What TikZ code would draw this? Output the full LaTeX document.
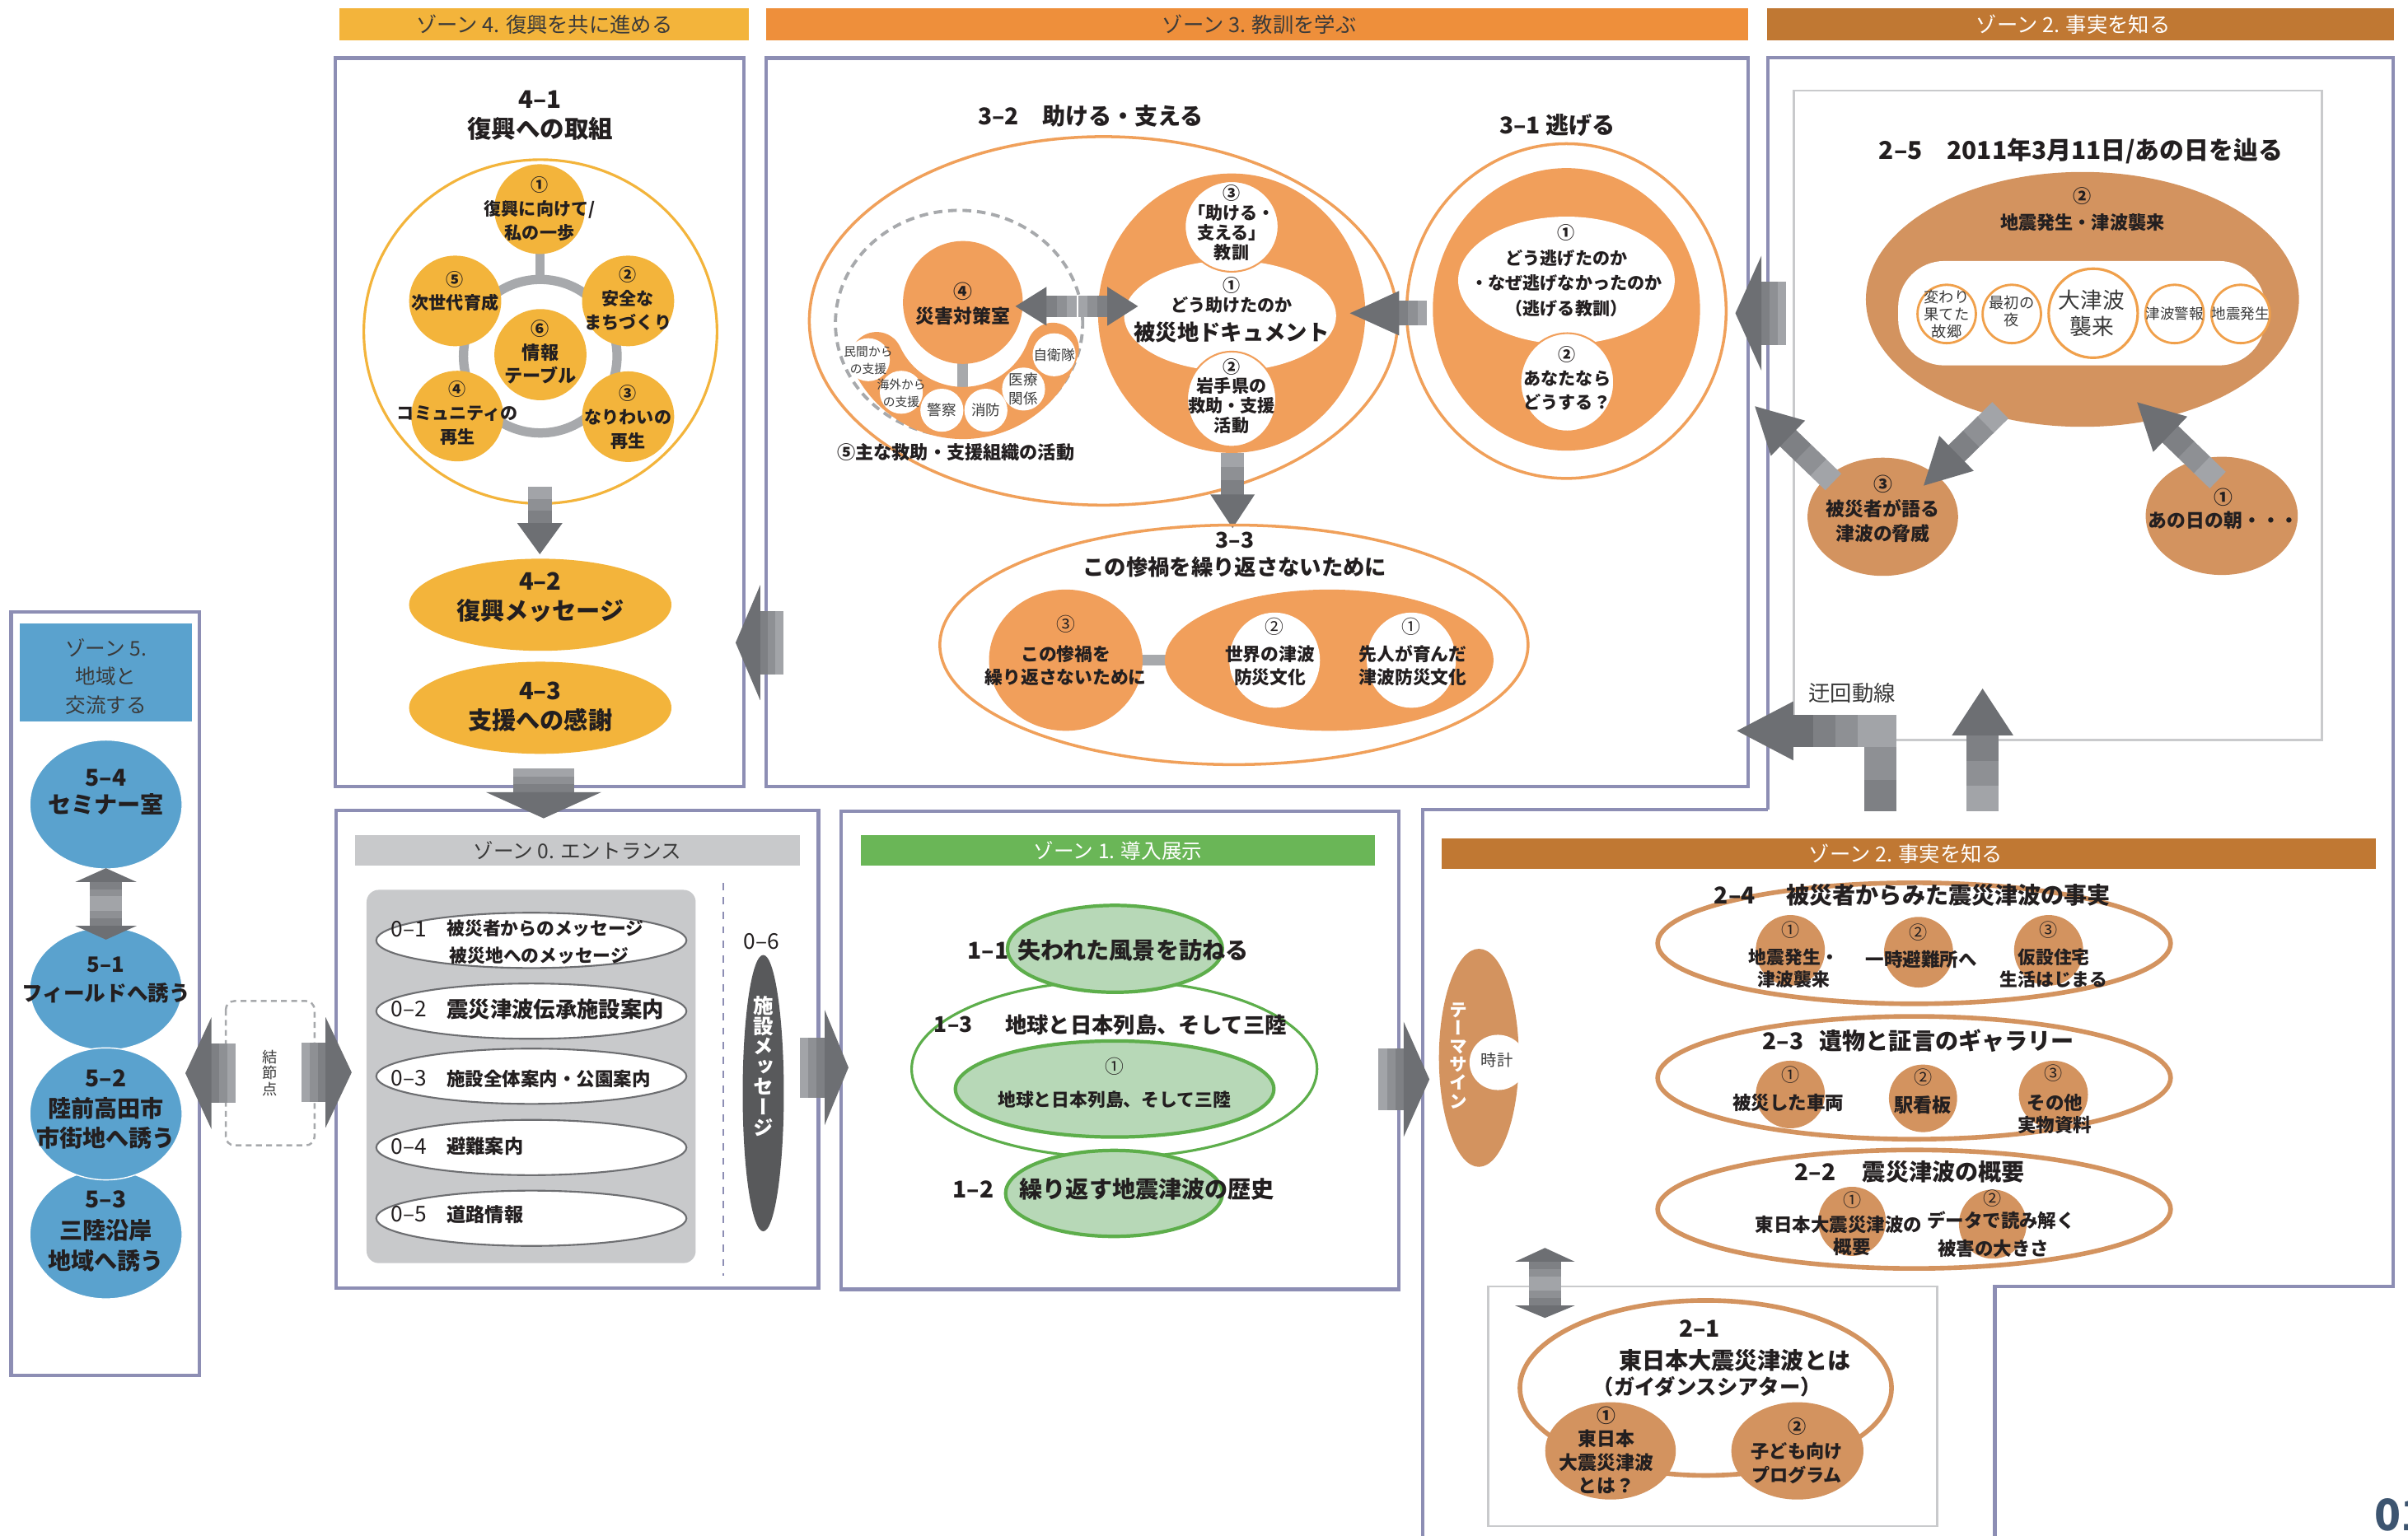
\documentclass[tikz,border=0pt]{standalone}
\usepackage{fontspec}
\usepackage{graphicx}
\setmainfont{Noto Sans CJK JP}
\usetikzlibrary{shapes.geometric}
\definecolor{gold}{HTML}{F3B43B}
\definecolor{orgbar}{HTML}{EE8F3B}
\definecolor{orgf}{HTML}{F19F5B}
\definecolor{orgl}{HTML}{F0A05A}
\definecolor{brnbar}{HTML}{C07833}
\definecolor{tanf}{HTML}{D3935F}
\definecolor{grnbar}{HTML}{6AB657}
\definecolor{grnf}{HTML}{B7D8B7}
\definecolor{grnl}{HTML}{5DAE4B}
\definecolor{blu}{HTML}{5AA2CE}
\definecolor{lgry}{HTML}{C8C9CB}
\definecolor{dgry}{HTML}{58595B}
\definecolor{ahd}{HTML}{6D6F73}
\definecolor{abA}{HTML}{7E8084}
\definecolor{abB}{HTML}{8E9094}
\definecolor{abC}{HTML}{A2A4A8}
\definecolor{boxc}{HTML}{8D8EB4}
\definecolor{ringc}{HTML}{A7A9AC}
\definecolor{ink}{HTML}{231F20}
\definecolor{hdr}{HTML}{3A3A3A}
\definecolor{ellg}{HTML}{6D6E71}
\definecolor{rectg}{HTML}{C9CACC}
\definecolor{cirl}{HTML}{F0A04B}
\definecolor{pagec}{HTML}{3D5570}
\tikzset{
  every node/.style={inner sep=0pt, outer sep=0pt},
  R/.style 2 args={align=center, text=ink, font=\fontsize{#1}{#2}\selectfont},
  B/.style 2 args={align=center, text=ink, font=\bfseries\fontsize{#1}{#2}\selectfont},
  V/.style 2 args={align=center, text=white, font=\bfseries\fontsize{#1}{#2}\selectfont\addfontfeature{RawFeature=+vert}},
  S/.style 2 args={ellipse, minimum width={(#1)*0.018642cm}, minimum height={(#2)*0.018642cm}},
  boxl/.style={draw=boxc, line width=1.2pt},
  pics/barrow/.style n args={4}{code={%
    \fill[abC] ({-(#3)-(#1)},{-(#2)/2}) rectangle ({-(#3)-2*(#1)/3+0.4},{(#2)/2});
    \fill[abB] ({-(#3)-2*(#1)/3},{-(#2)/2}) rectangle ({-(#3)-(#1)/3+0.4},{(#2)/2});
    \fill[abA] ({-(#3)-(#1)/3},{-(#2)/2}) rectangle ({-(#3)+0.4},{(#2)/2});
    \fill[ahd] (0,0) -- ({-(#3)},{(#4)/2}) -- ({-(#3)},{-(#4)/2}) -- cycle;
  }},
}
\begin{document}
\begin{tikzpicture}[x=0.018642cm,y=-0.018642cm]
\useasboundingbox (0,0) rectangle (1568,1000);
\fill[white] (0,0) rectangle (1568,1000);

% ===== header bars
\fill[gold] (221,5.3) rectangle (487.7,26.1);
\node[R={7.2}{8}, text=hdr] (h4) at (354.5,15.9) {ゾーン 4. 復興を共に進める};
\fill[orgbar] (498.8,5.3) rectangle (1138.4,26.1);
\node[R={7.2}{8}, text=hdr] (h3) at (820,15.9) {ゾーン 3. 教訓を学ぶ};
\fill[brnbar] (1150.8,5.3) rectangle (1559,26.1);
\node[R={7.2}{8}, text=white] (h2a) at (1350,15.9) {ゾーン 2. 事実を知る};

% ===== box outlines
\draw[boxl] (218.5,37.8) rectangle (484.6,512.3);
\draw[boxl] (498.8,37.8) rectangle (1138.4,512.3);
\draw[boxl] (1151,527.5) -- (1151,37.5) -- (1558.5,37.5) -- (1558.5,837.8) -- (1299,837.8) -- (1299,1003);
\draw[boxl] (1151,527.5) -- (926.5,527.5) -- (926.5,1003);
\draw[boxl] (7.2,398.7) rectangle (130,896);
\draw[boxl] (219,527.8) rectangle (533,839);
\draw[boxl] (547.5,528.2) rectangle (911,839.8);

% ===== ZONE 4
\node[B={8.4}{10.2}] (t41) at (351.8,75.3) {4–1\\復興への取組};
\node[S={230}{224}, draw=gold, line width=0.9pt] (z4o) at (351.9,216) {};
\draw[draw=ringc, line width=3.2pt] (351.8,232) circle[radius=50];
\draw[draw=ringc, line width=3.2pt] (351.6,163) -- (351.6,184);
\node[S={59}{58.5}, fill=gold] (z4a) at (351.4,136.2) {};
\node[S={60}{59}, fill=gold] (z4b) at (409,196) {};
\node[S={60}{59}, fill=gold] (z4c) at (409,271.4) {};
\node[S={60}{59}, fill=gold] (z4d) at (297.8,271) {};
\node[S={60}{59}, fill=gold] (z4e) at (296.4,196) {};
\node[S={60}{59.4}, fill=gold] (z4f) at (351.9,231) {};
\node[B={6}{8.2}] (z4at) at (351.4,136) {①\\復興に向けて/\\私の一歩};
\node[B={6}{8.2}] (z4bt) at (409,194.5) {②\\安全な\\まちづくり};
\node[B={6}{8.2}] (z4ct) at (409,271.6) {③\\なりわいの\\再生};
\node[B={6}{8.2}] (z4dt) at (297.8,268.9) {④\\コミュニティの\\再生};
\node[B={6}{8.2}] (z4et) at (296.4,189.7) {⑤\\次世代育成};
\node[B={6.3}{8.2}] (z4ft) at (351.9,229.3) {⑥\\情報\\テーブル};
\pic[rotate=-90] at (351.5,361) {barrow={23.7}{15.4}{20.3}{29.5}};
\node[S={170.8}{60}, fill=gold] (z42) at (351.8,393.9) {};
\node[B={8.3}{10.3}] (z42t) at (351.8,389.2) {4–2\\復興メッセージ};
\node[S={170.8}{60}, fill=gold] (z43) at (351.8,461) {};
\node[B={8.3}{10.3}] (z43t) at (351.8,460.5) {4–3\\支援への感謝};
\pic[rotate=-90] at (354,533) {barrow={15.4}{40}{17}{75}};

% ===== ZONE 3 : 3-2
\node[B={8}{9}] (t32) at (710.3,75.3) {3–2　助ける・支える};
\node[S={383}{240}, draw=orgl, line width=1pt] (z32o) at (718.5,209) {};
\node[S={161}{147}, draw=ringc, line width=1.1pt, dash pattern=on 3pt off 2pt] (z32d) at (624.5,210.5) {};
\draw[draw=ringc, line width=3.7pt] (627,236) -- (627,252);
\draw[draw=orgf, line width=18pt, line cap=round] (570.8,233.2) arc[start angle=155, end angle=19, radius=62];
\node[S={78}{80}, fill=orgf] (z32c4) at (627,197) {};
\node[B={6.5}{8.4}] (z32c4t) at (627,198) {④\\災害対策室};
\node[S={28}{28}, fill=white] (s1) at (565.4,234.3) {};
\node[S={28}{28}, fill=white] (s2) at (586.9,255.5) {};
\node[S={28}{28}, fill=white] (s3) at (613.3,267.2) {};
\node[S={28}{28}, fill=white] (s4) at (642,267.2) {};
\node[S={28}{28}, fill=white] (s5) at (666.5,253.4) {};
\node[S={28}{28}, fill=white] (s6) at (686.4,231.1) {};
\node[R={4.2}{6}, text=hdr] (s1t) at (565.4,234.8) {民間から\\の支援};
\node[R={4.2}{6}, text=hdr] (s2t) at (586.9,256) {海外から\\の支援};
\node[R={5}{6}, text=hdr] (s3t) at (613.3,267.2) {警察};
\node[R={5}{6}, text=hdr] (s4t) at (642,267.2) {消防};
\node[R={5}{6.6}, text=hdr] (s5t) at (666.5,253.4) {医療\\関係};
\node[R={4.8}{6}, text=hdr] (s6t) at (686.4,231.1) {自衛隊};
\node[B={6.3}{7}] (t325) at (622.4,294.7) {⑤主な救助・支援組織の活動};
% 3-2 main circle
\node[S={174}{182}, fill=orgf] (z32c1) at (802,204) {};
\node[S={138}{72}, fill=white] (z32w) at (801,205.7) {};
\node[S={61}{59}, fill=white, draw=orgf, line width=0.6pt] (z32c3) at (802,147.5) {};
\node[S={58}{62}, fill=white, draw=orgf, line width=0.6pt] (z32c2) at (802,260) {};
\node[B={6}{6.8}] (z32c3t) at (802,145) {③\\「助ける・\\支える」\\教訓};
\node[B={6}{7.1}] (z32wt) at (802,192.3) {①\\どう助けたのか};
\node[B={7.5}{8}] (z32wt2) at (802,216.3) {被災地ドキュメント};
\node[B={6}{6.8}] (z32c2t) at (802,258) {②\\岩手県の\\救助・支援\\活動};
\pic[rotate=180] at (661.2,199.5) {barrow={19.5}{13.8}{20.3}{25.4}};
\pic at (741,199.5) {barrow={19}{13.8}{20}{25.4}};

% ===== 3-1
\node[B={8}{9}] (t31) at (1014,81.6) {3–1 逃げる};
\node[S={208}{218}, draw=orgl, line width=1pt] (z31o) at (1020,202.6) {};
\node[S={174}{184}, fill=orgf] (z31c) at (1020,201.5) {};
\node[S={141}{83}, fill=white] (z31w) at (1020,182.6) {};
\node[S={61}{64}, fill=white, draw=orgf, line width=0.6pt] (z31c2) at (1020.5,249) {};
\node[B={6}{8.7}] (z31wt) at (1020,176.4) {①\\どう逃げたのか\\・なぜ逃げなかったのか\\（逃げる教訓）};
\node[B={6}{8.2}] (z31c2t) at (1020.5,246.5) {②\\あなたなら\\どうする？};
\pic[rotate=180] at (879,204) {barrow={18}{16}{32}{29}};
\pic[rotate=-90] at (802.6,344) {barrow={27}{15}{22}{29}};

% ===== 3-3
\node[S={383}{156}, draw=orgl, line width=1pt] (z33o) at (803.5,420) {};
\node[B={7.5}{9.3}] (t33) at (804,361.3) {3–3\\この惨禍を繰り返さないために};
\fill[ringc] (743,426.5) rectangle (764,433.5);
\node[S={100}{92}, fill=orgf] (z33c) at (694,430) {};
\node[S={214}{92}, fill=orgf] (z33b) at (865.5,430) {};
\node[S={59}{62}, fill=white] (z33b2) at (830,430) {};
\node[S={58}{62}, fill=white] (z33b1) at (919,430) {};
\node[R={6.5}{7}] (z33cn) at (694,406.6) {③};
\node[B={6.2}{8}] (z33ct) at (694,433.5) {この惨禍を\\繰り返さないために};
\node[R={6.5}{7}] (z33b2n) at (830,408) {②};
\node[B={6.2}{8}] (z33b2t) at (827,433.5) {世界の津波\\防災文化};
\node[R={6.5}{7}] (z33b1n) at (919,408) {①};
\node[B={6.2}{8}] (z33b1t) at (920,433.5) {先人が育んだ\\津波防災文化};
\pic[rotate=180] at (479,418.6) {barrow={15}{41}{16}{75}};

% ===== ZONE 2 top (2-5)
\draw[draw=rectg, line width=0.7pt] (1168,59) rectangle (1512,482);
\node[B={8.5}{9}] (t25) at (1355,98.4) {2–5　2011年3月11日/あの日を辿る};
\node[S={282}{166}, fill=tanf] (z25b) at (1356,195) {};
\node[B={6.3}{9.2}] (z25bt) at (1356,136.4) {②\\地震発生・津波襲来};
\fill[white, rounded corners=16pt] (1236,170) rectangle (1475,238);
\node[S={38}{38}, fill=white, draw=cirl, line width=0.8pt] (k1) at (1267.6,204.5) {};
\node[S={38}{38}, fill=white, draw=cirl, line width=0.8pt] (k2) at (1310,204.5) {};
\node[S={58}{58}, fill=white, draw=cirl, line width=0.9pt] (k3) at (1363,204) {};
\node[S={38}{38}, fill=white, draw=cirl, line width=0.8pt] (k4) at (1416,204.5) {};
\node[S={38}{38}, fill=white, draw=cirl, line width=0.8pt] (k5) at (1459,204.5) {};
\node[R={5.2}{6}, text=hdr] (k1t) at (1267.6,204.5) {変わり\\果てた\\故郷};
\node[R={5.2}{6}, text=hdr] (k2t) at (1310,203) {最初の\\夜};
\node[R={7.6}{9}, text=hdr] (k3t) at (1362,204) {大津波\\襲来};
\node[R={5}{6}, text=hdr] (k4t) at (1416,204.5) {津波警報};
\node[R={5}{6}, text=hdr] (k5t) at (1459,204.5) {地震発生};
\node[S={98}{77}, fill=tanf] (z25c3) at (1226,336.6) {};
\node[B={6.5}{8.5}] (z25c3t) at (1226,331.3) {③\\被災者が語る\\津波の脅威};
\node[S={99}{77}, fill=tanf] (z25c1) at (1446.7,336) {};
\node[B={6.5}{8}] (z25c1t) at (1448,331.3) {①\\あの日の朝・・・};
\pic[rotate=224.5] at (1252.6,316.3) {barrow={40}{15}{30}{32}};
\pic[rotate=136] at (1391.6,262) {barrow={43}{15}{30}{32}};
\pic[rotate=136] at (1142.7,264.6) {barrow={41}{15}{30}{32}};
\pic[rotate=180] at (1130,204) {barrow={16}{41}{17}{75}};
% detour
\node[R={7.5}{8}, text=hdr] (det) at (1206,451.5) {迂回動線};
\fill[ahd] (1131,476) -- (1167.8,456.8) -- (1167.8,495.3) -- cycle;
\fill[ahd] (1167.4,465.8) rectangle (1181,486.5);
\fill[abA] (1180.8,465.8) rectangle (1195.4,486.5);
\fill[abB] (1195.2,465.8) rectangle (1209.8,486.5);
\fill[abC] (1209.6,465.8) rectangle (1234.7,486.6);
\fill[abB] (1214,486.4) rectangle (1234.7,508.1);
\fill[abA] (1214,507.9) rectangle (1234.7,528.4);
\pic[rotate=90] at (1291,448.5) {barrow={49.4}{21}{30.5}{40}};

% ===== ZONE 5
\fill[blu] (13,406) rectangle (125,469.7);
\node[R={7}{9.8}, text=hdr] (h5) at (69,440.5) {ゾーン 5.\\地域と\\交流する};
\node[S={99.2}{84}, fill=blu, draw=white, line width=0.4pt] (z54) at (69,524) {};
\node[S={99.2}{80}, fill=blu, draw=white, line width=0.4pt] (z51) at (69,644) {};
\node[S={99.2}{84}, fill=blu, draw=white, line width=0.4pt] (z53) at (69,804) {};
\node[S={99.2}{86}, fill=blu, draw=white, line width=0.4pt] (z52) at (69,725.5) {};
\node[B={8}{9.3}] (z54t) at (69,516) {5–4\\セミナー室};
\node[B={7.3}{10}] (z51t) at (69,638.5) {5–1\\フィールドへ誘う};
\node[B={8}{10.4}] (z52t) at (69,722.8) {5–2\\陸前高田市\\市街地へ誘う};
\node[B={8}{10.6}] (z53t) at (69,802) {5–3\\三陸沿岸\\地域へ誘う};
\pic[rotate=90] at (69,565.5) {barrow={14}{21}{9}{40}};
\pic[rotate=-90] at (69,612) {barrow={14.5}{21}{9}{40}};
% node point
\draw[draw=ringc, line width=0.7pt, dash pattern=on 2pt off 1.5pt, rounded corners=3pt] (147,652) rectangle (204.8,746);
\node[R={5.2}{5.5}, text=hdr] (kes) at (176,698.9) {結\\節\\点};
\pic[rotate=180] at (120.7,699) {barrow={15.7}{38.7}{17}{73}};
\pic at (229,698.5) {barrow={15.6}{38.7}{17}{72}};

% ===== ZONE 0
\fill[lgry] (231,544) rectangle (521,564);
\node[R={7}{8}, text=hdr] (h0) at (376,554) {ゾーン 0. エントランス};
\fill[lgry, rounded corners=4.2pt] (238.7,579.6) rectangle (453,822.7);
\node[S={202}{36}, fill=white, draw=ellg, line width=0.6pt] (z01) at (346,612.5) {};
\node[S={202}{36}, fill=white, draw=ellg, line width=0.6pt] (z02) at (346,658.6) {};
\node[S={202}{36}, fill=white, draw=ellg, line width=0.6pt] (z03) at (346,701) {};
\node[S={202}{36}, fill=white, draw=ellg, line width=0.6pt] (z04) at (346,747.4) {};
\node[S={202}{36}, fill=white, draw=ellg, line width=0.6pt] (z05) at (346,793.5) {};
\node[R={7.5}{8}, anchor=west] (z01n) at (254.7,604.9) {0–1};
\node[B={6.2}{7}, anchor=west] (z01a) at (291,604.9) {被災者からのメッセージ};
\node[B={6.2}{7}, anchor=west] (z01b) at (292.7,622.3) {被災地へのメッセージ};
\node[R={7.5}{8}, anchor=west] (z02n) at (254.7,657.3) {0–2};
\node[B={7.5}{8}, anchor=west] (z02a) at (291,657.3) {震災津波伝承施設案内};
\node[R={7.5}{8}, anchor=west] (z03n) at (254.7,702.5) {0–3};
\node[B={6.4}{7}, anchor=west] (z03a) at (291,702.5) {施設全体案内・公園案内};
\node[R={7.5}{8}, anchor=west] (z04n) at (254.7,746.7) {0–4};
\node[B={6.6}{7}, anchor=west] (z04a) at (291,746.7) {避難案内};
\node[R={7.5}{8}, anchor=west] (z05n) at (254.7,790.9) {0–5};
\node[B={6.6}{7}, anchor=west] (z05a) at (291,790.9) {道路情報};
\draw[draw=boxc, line width=0.8pt, dash pattern=on 2.5pt off 2.5pt] (471,575) -- (471,831);
\node[R={7.5}{8}] (z06n) at (496,613) {0–6};
\node[S={26.8}{180}, fill=dgry] (z06) at (497,712) {};
\node[V={7}{7}] (z06t) at (497,694.4) {施\\設\\メ\\ッ\\セ\\ー\\ジ};
\pic at (552.5,695.3) {barrow={16}{39}{15.5}{75}};

% ===== ZONE 1
\fill[grnbar] (560.6,544) rectangle (895.5,564);
\node[R={7}{8}, text=white] (h1) at (728,554) {ゾーン 1. 導入展示};
\node[S={264}{115}, fill=white, draw=grnl, line width=0.9pt] (z13) at (725.6,696.3) {};
\node[S={140}{56.6}, fill=grnf, draw=grnl, line width=1.2pt] (z11) at (726,618) {};
\node[S={141.2}{56}, fill=grnf, draw=grnl, line width=1.2pt] (z12) at (725.4,777.3) {};
\node[S={207.4}{62.6}, fill=grnf, draw=grnl, line width=1.2pt] (z131) at (725.8,709.3) {};
\node[B={8}{9}] (z11n) at (643.5,619) {1–1};
\node[B={8}{9}] (z11t) at (737.9,619) {失われた風景を訪ねる};
\node[B={7.5}{9}] (z13n) at (620.8,667.4) {1–3};
\node[B={7.5}{9}] (z13t) at (746.2,667.4) {地球と日本列島、そして三陸};
\node[R={6.5}{7}] (z131n) at (725.8,694.7) {①};
\node[B={6.2}{7}] (z131t) at (725.6,716) {地球と日本列島、そして三陸};
\node[B={8}{9}] (z12n) at (633.7,774.5) {1–2};
\node[B={8}{9}] (z12t) at (746.9,774.5) {繰り返す地震津波の歴史};
\pic at (930.8,703) {barrow={16.3}{40}{16.8}{75}};

% ===== ZONE 2 bottom
\fill[brnbar] (939,546) rectangle (1547,566);
\node[R={7.2}{8}, text=white] (h2b) at (1241,556) {ゾーン 2. 事実を知る};
\node[S={52}{142}, fill=tanf] (ts) at (963,689) {};
\node[V={6.2}{6.3}] (tst) at (949.6,687.6) {テ\\ー\\マ\\サ\\イ\\ン};
\node[S={37}{36}, fill=white] (clk) at (975.4,692) {};
\node[R={5.5}{6}, text=hdr] (clkt) at (974.8,690.5) {時計};
% 2-4
\node[S={334}{78.8}, draw=tanf, line width=1.6pt] (z24) at (1246.4,614.4) {};
\node[B={8}{9}] (z24n) at (1129.6,583.2) {2–4};
\node[B={8}{9}] (z24t) at (1268.8,583.2) {被災者からみた震災津波の事実};
\node[S={45}{46}, fill=tanf] (z241) at (1165.8,619) {};
\node[S={45}{46}, fill=tanf] (z242) at (1249.3,620.2) {};
\node[S={45}{46}, fill=tanf] (z243) at (1334,619) {};
\node[R={6.3}{7}] (z241n) at (1165.8,605.6) {①};
\node[B={6.2}{7.7}] (z241t) at (1168,630.8) {地震発生・\\津波襲来};
\node[R={6.3}{7}] (z242n) at (1249.3,607.5) {②};
\node[B={6.4}{7}] (z242t) at (1251,624.9) {一時避難所へ};
\node[R={6.3}{7}] (z243n) at (1334,605.6) {③};
\node[B={6.2}{7.7}] (z243t) at (1337.4,630.8) {仮設住宅\\生活はじまる};
% 2-3
\node[S={334}{80}, draw=tanf, line width=1.6pt] (z23) at (1246.4,702) {};
\node[B={8}{9}] (z23n) at (1161,678) {2–3};
\node[B={8}{9}] (z23t) at (1267.7,678) {遺物と証言のギャラリー};
\node[S={45}{44}, fill=tanf] (z231) at (1165.8,712.9) {};
\node[S={44.4}{44}, fill=tanf] (z232) at (1252.2,715.4) {};
\node[S={45}{44}, fill=tanf] (z233) at (1337.1,712.9) {};
\node[R={6.3}{7}] (z231n) at (1165.8,700) {①};
\node[B={6.4}{7}] (z231t) at (1164.4,718.4) {被災した車両};
\node[R={6.3}{7}] (z232n) at (1252.2,701.7) {②};
\node[B={6.6}{7}] (z232t) at (1252,720) {駅看板};
\node[R={6.3}{7}] (z233n) at (1337.1,699) {③};
\node[B={6.4}{7.6}] (z233t) at (1338,725.5) {その他\\実物資料};
% 2-2
\node[S={334}{77.2}, draw=tanf, line width=1.6pt] (z22) at (1246.4,787.6) {};
\node[B={8}{9}] (z22n) at (1182,763.3) {2–2};
\node[B={8}{9}] (z22t) at (1265.6,763.3) {震災津波の概要};
\node[S={44}{45}, fill=tanf] (z221) at (1206,795.5) {};
\node[S={44}{45}, fill=tanf] (z222) at (1297.6,797.3) {};
\node[R={6.3}{7}] (z221n) at (1206,781.5) {①};
\node[B={6.4}{7}] (z221a) at (1197.2,797.8) {東日本大震災津波の};
\node[B={6.4}{7}] (z221b) at (1206,812) {概要};
\node[R={6.3}{7}] (z222n) at (1297.6,780.6) {②};
\node[B={6.4}{7}] (z222a) at (1303,795) {データで読み解く};
\node[B={6.4}{7}] (z222b) at (1298,813.2) {被害の大きさ};
% 2-1
\draw[draw=rectg, line width=0.7pt] (969,837.8) rectangle (1261.4,994);
\pic[rotate=90] at (1006,812.8) {barrow={14.3}{21}{9}{39}};
\pic[rotate=-90] at (1006,858.4) {barrow={14.3}{21}{8.1}{39}};
\node[S={242}{114}, fill=white, draw=tanf, line width=1.6pt] (z21) at (1110.7,904) {};
\node[S={85}{63.4}, fill=tanf] (z211) at (1048.7,945) {};
\node[S={86}{63.4}, fill=tanf] (z212) at (1170.4,945) {};
\node[B={8}{9}] (z21n) at (1106.6,865.5) {2–1};
\node[B={8}{9}] (z21a) at (1129.6,886) {東日本大震災津波とは};
\node[B={7.2}{8}] (z21b) at (1111.6,903) {（ガイダンスシアター）};
\node[B={6.5}{8.1}] (z211t) at (1046,944.5) {①\\東日本\\大震災津波\\とは？};
\node[B={6.3}{8.5}] (z212t) at (1170,945) {②\\子ども向け\\プログラム};

% page number
\node[anchor=north west, font=\bfseries\fontsize{15}{15}\selectfont, text=pagec] (pg) at (1546,976) {01};
\end{tikzpicture}
\end{document}
